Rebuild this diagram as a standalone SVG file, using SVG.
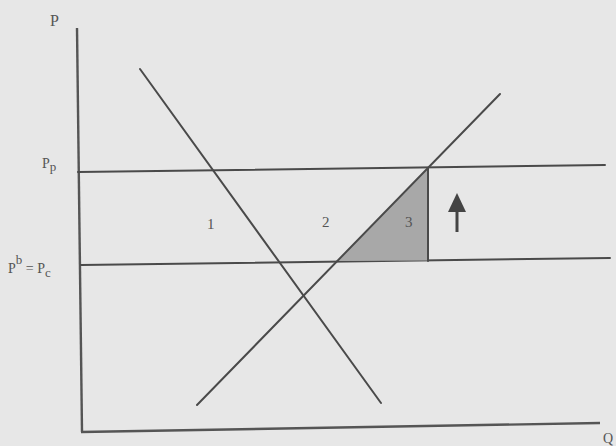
<svg xmlns="http://www.w3.org/2000/svg" width="616" height="446" viewBox="0 0 616 446">
  <style>
    .ln { stroke: #4a4a4a; stroke-width: 2; fill: none; stroke-linecap: round; }
    .ax { stroke: #555555; stroke-width: 2.4; fill: none; }
    .t { font-family: "Liberation Serif", "Times New Roman", serif; fill: #555555; }
  </style>
  <rect width="616" height="446" fill="#e7e7e7"/>
  <g id="axes">
    <line class="ax" x1="77" y1="28" x2="82" y2="432"/>
    <line class="ax" x1="81" y1="432" x2="600" y2="423"/>
    <text class="t" x="50" y="26" font-size="16">P</text>
    <text class="t" x="603" y="443" font-size="14">Q</text>
  </g>
  <g id="price-lines">
    <line class="ln" x1="78" y1="172" x2="605" y2="165"/>
    <line class="ln" x1="81" y1="265" x2="610" y2="258"/>
    <text class="t" x="42" y="168" font-size="14">P<tspan font-size="13" dy="3">p</tspan></text>
    <text class="t" x="8" y="273" font-size="14">P<tspan font-size="13" dy="-9">b</tspan><tspan dy="9"> = </tspan>P<tspan font-size="13" dy="4">c</tspan></text>
  </g>
  <g id="area-3">
    <polygon points="337,261 428,168 428,260.5" fill="#a8a8a8"/>
    <line class="ln" x1="428" y1="168" x2="428" y2="261"/>
  </g>
  <g id="curves">
    <line class="ln" x1="140" y1="69" x2="381" y2="403"/>
    <line class="ln" x1="197" y1="405" x2="500" y2="94"/>
  </g>
  <g id="labels">
    <text class="t" x="207" y="229" font-size="15">1</text>
    <text class="t" x="322" y="227" font-size="15">2</text>
    <text class="t" x="405" y="227" font-size="15">3</text>
  </g>
  <g id="arrow">
    <line x1="457" y1="232" x2="457" y2="210" stroke="#444444" stroke-width="3"/>
    <polygon points="448,212 466,212 457,193" fill="#444444"/>
  </g>
</svg>
